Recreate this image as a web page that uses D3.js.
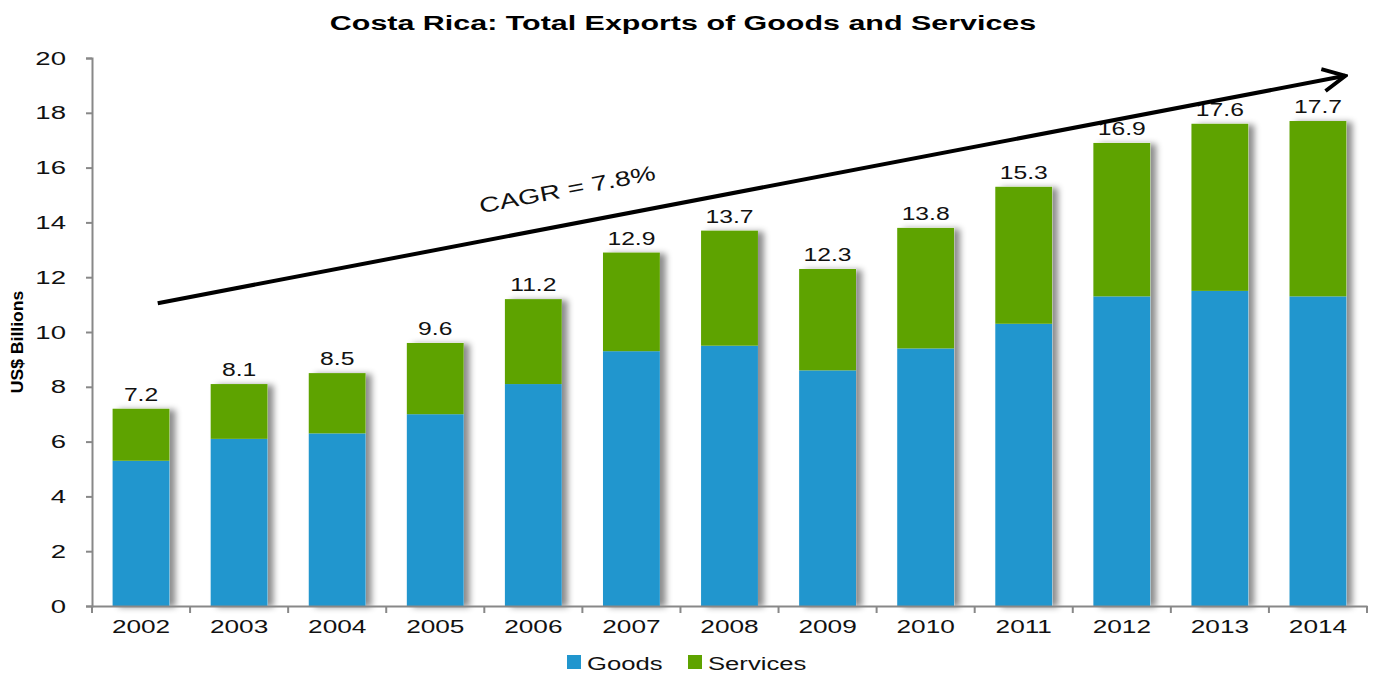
<!DOCTYPE html>
<html>
<head>
<meta charset="utf-8">
<script src="https://cdn.jsdelivr.net/npm/d3@7"></script>
<style>
  body { margin: 0; background: #fff; }
  text { font-family: "Liberation Sans", Arial, sans-serif; }
</style>
</head>
<body>
<svg id="chart"></svg>
<script>
var years = ["2002","2003","2004","2005","2006","2007","2008","2009","2010","2011","2012","2013","2014"];
var goods = [5.3, 6.1, 6.3, 7.0, 8.1, 9.3, 9.5, 8.6, 9.4, 10.3, 11.3, 11.5, 11.3];
var totals = [7.2, 8.1, 8.5, 9.6, 11.2, 12.9, 13.7, 12.3, 13.8, 15.3, 16.9, 17.6, 17.7];
var services = totals.map(function(t, i) { return +(t - goods[i]).toFixed(1); });
var yTicks = [0, 2, 4, 6, 8, 10, 12, 14, 16, 18, 20];
var seriesNames = ["Goods", "Services"];
var colors = ["#2196ce", "#5ea300"];

var margin = { top: 58, right: 12, bottom: 67, left: 92 },
    width = 1379 - margin.left - margin.right,
    height = 673 - margin.top - margin.bottom;

// the original image is stretched sideways, so text is widened to match
var SX = 1.38;
function stretch(sel, sx) {
    sel.each(function() {
        var t = d3.select(this);
        var tx = +t.attr("x") || 0, ty = +t.attr("y") || 0;
        t.attr("x", 0).attr("y", 0)
            .attr("transform", "translate(" + tx + "," + ty + ") scale(" + sx + ",1)");
    });
}

var svg = d3.select("#chart")
    .attr("width", width + margin.left + margin.right)
    .attr("height", height + margin.top + margin.bottom);

var defs = svg.append("defs");
var shadow = defs.append("filter").attr("id", "shadow")
    .attr("x", "-20%").attr("y", "-5%").attr("width", "160%").attr("height", "110%");
shadow.append("feDropShadow")
    .attr("dx", 6).attr("dy", 1).attr("stdDeviation", 3)
    .attr("flood-color", "#000").attr("flood-opacity", 0.45);

var arrowHead = defs.append("marker").attr("id", "arrow")
    .attr("viewBox", "0 0 10 10").attr("refX", 9).attr("refY", 5)
    .attr("markerWidth", 7).attr("markerHeight", 7)
    .attr("markerUnits", "strokeWidth")
    .attr("orient", "auto");
arrowHead.append("path").attr("d", "M1,1 L9,5 L1,9")
    .attr("fill", "none").attr("stroke", "#000").attr("stroke-width", 1.4);

var g = svg.append("g")
    .attr("transform", "translate(" + margin.left + "," + margin.top + ")");

var x = d3.scaleBand().domain(years).range([0, width]).paddingInner(0.42).paddingOuter(0.21);
var y = d3.scaleLinear().domain([0, 20]).range([height, 0]);

// title
svg.append("text")
    .attr("x", 683).attr("y", 30)
    .attr("text-anchor", "middle")
    .style("font-size", "21px").style("font-weight", "bold")
    .text("Costa Rica: Total Exports of Goods and Services")
    .call(stretch, 1.45);

// y axis label
svg.append("text")
    .attr("transform", "translate(23," + (margin.top + height / 2 + 10) + ") rotate(-90) scale(1.1,1)")
    .attr("text-anchor", "middle")
    .style("font-size", "16px").style("font-weight", "bold")
    .text("US$ Billions");

// stacked bars
var rows = years.map(function(yr, i) { return { year: yr, Goods: goods[i], Services: services[i] }; });
var stack = d3.stack().keys(seriesNames)(rows);

var barGroup = g.append("g");
barGroup.selectAll(".shadow")
    .data(rows)
    .enter().append("rect")
    .attr("x", function(d) { return x(d.year); })
    .attr("y", function(d, i) { return y(totals[i]); })
    .attr("width", x.bandwidth())
    .attr("height", function(d, i) { return y(0) - y(totals[i]); })
    .attr("fill", "#fff")
    .attr("filter", "url(#shadow)");

barGroup.selectAll(".layer")
    .data(stack)
    .enter().append("g")
    .attr("fill", function(d, i) { return colors[i]; })
    .selectAll("rect")
    .data(function(d) { return d; })
    .enter().append("rect")
    .attr("x", function(d) { return x(d.data.year); })
    .attr("y", function(d) { return y(d[1]); })
    .attr("width", x.bandwidth())
    .attr("height", function(d) { return y(d[0]) - y(d[1]); });

// total labels
g.selectAll(".total")
    .data(totals)
    .enter().append("text")
    .attr("x", function(d, i) { return x(years[i]) + x.bandwidth() / 2; })
    .attr("y", function(d) { return y(d) - 8; })
    .attr("text-anchor", "middle")
    .style("font-size", "19px").style("fill", "#111")
    .text(function(d) { return d.toFixed(1); })
    .call(stretch, 1.3);

// axes
var yAxis = g.append("g")
    .call(d3.axisLeft(y).tickValues(yTicks).tickSize(6).tickPadding(20));
yAxis.selectAll("text").style("font-size", "19px").style("fill", "#111")
    .style("font-family", "'Liberation Sans', Arial, sans-serif")
    .call(stretch, 1.45);
yAxis.selectAll("line, path").attr("stroke", "#888").attr("stroke-width", 2);

var xAxis = g.append("g")
    .attr("transform", "translate(0," + height + ")")
    .call(d3.axisBottom(x).tickSize(0).tickPadding(14));
xAxis.select(".domain").attr("stroke", "#888").attr("stroke-width", 2);
xAxis.selectAll("text").style("font-size", "19px").style("fill", "#111")
    .style("font-family", "'Liberation Sans', Arial, sans-serif")
    .call(stretch, SX);
// category separator ticks
xAxis.selectAll(".sep")
    .data(d3.range(years.length + 1))
    .enter().append("line")
    .attr("x1", function(i) { return i * x.step(); })
    .attr("x2", function(i) { return i * x.step(); })
    .attr("y1", 0).attr("y2", 7)
    .attr("stroke", "#888").attr("stroke-width", 2);

// CAGR arrow, placed in category index / value space
var xi = d3.scaleLinear().domain([0, years.length - 1])
    .range([x(years[0]) + x.bandwidth() / 2, x(years[years.length - 1]) + x.bandwidth() / 2]);
var arrowFrom = [0.17, 11.05], arrowTo = [12.28, 19.35];
g.append("line")
    .attr("x1", xi(arrowFrom[0])).attr("y1", y(arrowFrom[1]))
    .attr("x2", xi(arrowTo[0])).attr("y2", y(arrowTo[1]))
    .attr("stroke", "#000").attr("stroke-width", 4)
    .attr("marker-end", "url(#arrow)");

var ang = Math.atan2(y(arrowTo[1]) - y(arrowFrom[1]), xi(arrowTo[0]) - xi(arrowFrom[0])) * 180 / Math.PI;
g.append("text")
    .attr("transform", "translate(" + xi(4.36) + "," + y(14.95) + ") rotate(" + ang + ") scale(1.35,1)")
    .attr("text-anchor", "middle")
    .style("font-size", "21px").style("fill", "#111")
    .text("CAGR = 7.8%");

// legend
var legend = svg.append("g").attr("transform", "translate(567,663)");
var lx = [0, 121];
seriesNames.forEach(function(name, i) {
    legend.append("rect").attr("x", lx[i]).attr("y", -8)
        .attr("width", 14).attr("height", 14).attr("fill", colors[i]);
    legend.append("text").attr("x", lx[i] + 20).attr("y", 7)
        .style("font-size", "19px").style("fill", "#111").text(name)
        .call(stretch, 1.35);
});
</script>
</body>
</html>
